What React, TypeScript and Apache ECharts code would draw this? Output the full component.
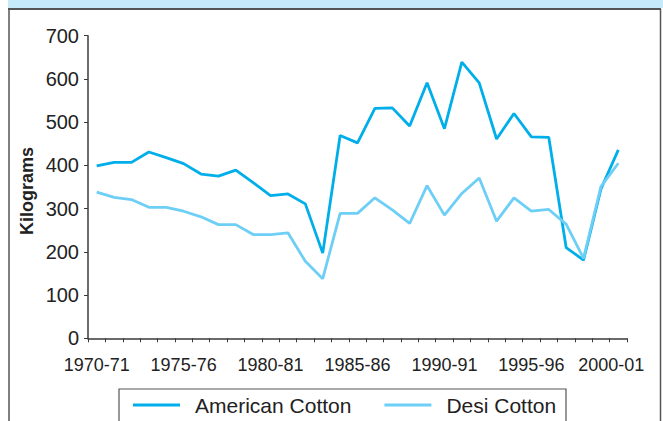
import React, { useEffect, useRef } from "react";
import * as echarts from "echarts";

const categories = [
  "1970-71", "1971-72", "1972-73", "1973-74", "1974-75", "1975-76", "1976-77", "1977-78",
  "1978-79", "1979-80", "1980-81", "1981-82", "1982-83", "1983-84", "1984-85", "1985-86",
  "1986-87", "1987-88", "1988-89", "1989-90", "1990-91", "1991-92", "1992-93", "1993-94",
  "1994-95", "1995-96", "1996-97", "1997-98", "1998-99", "1999-00", "2000-01",
];

const americanCotton = [
  399, 407, 407, 431, 418, 404, 380, 375, 389, 360, 330, 334, 311, 197, 469, 452,
  532, 533, 491, 591, 485, 639, 591, 461, 520, 466, 465, 210, 181, 345, 436,
];

const desiCotton = [
  338, 326, 321, 303, 303, 294, 281, 263, 263, 240, 240, 244, 178, 138, 289, 289,
  325, 297, 266, 353, 285, 335, 371, 271, 325, 294, 298, 264, 185, 351, 405,
];

const yTicks = { min: 0, max: 700, interval: 100 };

const FONT = "'Liberation Sans', Arial, Helvetica, sans-serif";
const AXIS = "#3a3a3a";

export default function App() {
  const ref = useRef<HTMLDivElement>(null);

  useEffect(() => {
    if (!ref.current) return;
    const chart = echarts.init(ref.current, null, { renderer: "svg" });
    const last = categories[categories.length - 1];
    chart.setOption({
      animation: false,
      backgroundColor: "#ffffff",
      grid: { left: 88, right: 36, top: 35.7, bottom: 82.7, containLabel: false },
      xAxis: {
        type: "category",
        data: categories,
        boundaryGap: true,
        axisLine: { show: true, lineStyle: { color: AXIS, width: 1.5 } },
        axisTick: { show: true, interval: 0, length: 4, inside: false, lineStyle: { color: AXIS, width: 1 } },
        axisLabel: {
          interval: 4,
          margin: 18,
          fontSize: 18,
          color: "#222",
          fontFamily: FONT,
          formatter: (v: string) => (v === last ? "{last|" + v + "}" : v),
          rich: {
            last: { fontSize: 18, color: "#222", fontFamily: FONT, padding: [0, 14, 0, 0] },
          },
        },
        splitLine: { show: false },
      },
      yAxis: {
        type: "value",
        min: yTicks.min,
        max: yTicks.max,
        interval: yTicks.interval,
        axisLine: { show: true, lineStyle: { color: AXIS, width: 1.5 } },
        axisTick: { show: true, length: 4, lineStyle: { color: AXIS, width: 1 } },
        axisLabel: { margin: 9, fontSize: 20, color: "#222", fontFamily: FONT },
        splitLine: { show: false },
      },
      legend: {
        left: 133,
        top: 394.5,
        icon: "rect",
        itemWidth: 47,
        itemHeight: 3,
        itemGap: 33,
        padding: 0,
        textStyle: { fontSize: 21, color: "#222", fontFamily: FONT, padding: [0, 0, 0, 10] },
        data: ["American Cotton", "Desi Cotton"],
      },
      series: [
        {
          name: "American Cotton",
          type: "line",
          data: americanCotton,
          symbol: "none",
          color: "#00aee9",
          lineStyle: { width: 2.8, color: "#00aee9" },
        },
        {
          name: "Desi Cotton",
          type: "line",
          data: desiCotton,
          symbol: "none",
          color: "#6dcff6",
          lineStyle: { width: 2.8, color: "#6dcff6" },
        },
      ],
      graphic: [
        { type: "rect", shape: { x: 8, y: 0, width: 655, height: 8 }, style: { fill: "#c6eaf9" }, silent: true },
        { type: "line", shape: { x1: 8, y1: 9, x2: 661, y2: 9 }, style: { stroke: "#555", lineWidth: 2 }, silent: true },
        { type: "line", shape: { x1: 9, y1: 9, x2: 9, y2: 421 }, style: { stroke: "#555", lineWidth: 1.5 }, silent: true },
        { type: "line", shape: { x1: 660.5, y1: 9, x2: 660.5, y2: 421 }, style: { stroke: "#555", lineWidth: 1.5 }, silent: true },
        { type: "rect", shape: { x: 119, y: 389, width: 447, height: 40 }, style: { fill: "none", stroke: "#555", lineWidth: 1.2 }, silent: true },
        {
          type: "text",
          x: 27,
          y: 191,
          rotation: Math.PI / 2,
          style: {
            text: "Kilograms",
            fontSize: 18,
            fontWeight: "bold",
            fontFamily: FONT,
            fill: "#222",
            align: "center",
            verticalAlign: "middle",
          },
          silent: true,
        },
      ],
    });
    return () => chart.dispose();
  }, []);

  return (
    <div
      ref={ref}
      style={{ position: "fixed", left: 0, top: 0, width: 663, height: 421 }}
    />
  );
}
